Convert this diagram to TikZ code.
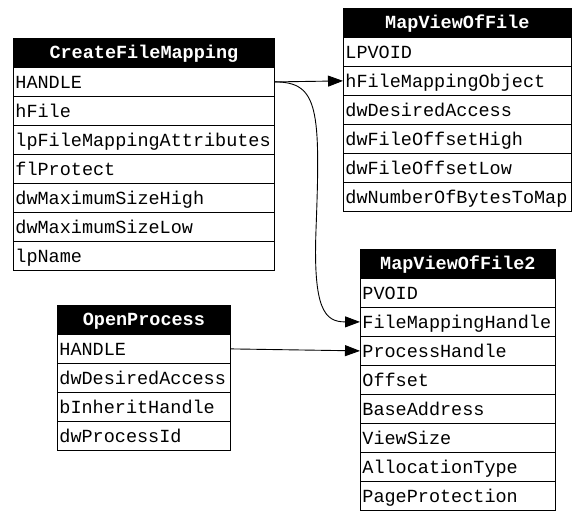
\documentclass[tikz,border=0pt]{standalone}
\usepackage{fontspec}
\setmonofont{Liberation Mono}
\usetikzlibrary{arrows.meta}
\tikzset{
  header/.style={draw=black, fill=black, text=white, line width=0.8pt,
    font=\fontsize{18.5}{20}\selectfont\ttfamily\bfseries,
    anchor=north west, minimum height=29pt, inner sep=0pt,
    text height=15pt, text depth=4pt},
  field/.style={draw=black, fill=white, line width=0.8pt,
    font=\fontsize{18.5}{20}\selectfont\ttfamily,
    anchor=north west, minimum height=29pt, inner xsep=2pt, inner ysep=0pt,
    text width=#1, align=left, text height=16pt, text depth=3pt},
  link/.style={-{Triangle[length=15pt,width=11pt]}, line width=0.9pt}
}
\begin{document}
\begin{tikzpicture}[x=1pt, y=-1pt]
  \useasboundingbox (0,0) rectangle (584,516);
  % CreateFileMapping
  \node[header, minimum width=261pt] (cfm0) at (13,38) {CreateFileMapping};
  \foreach \txt [count=\i] in {HANDLE, hFile, lpFileMappingAttributes, flProtect,
      dwMaximumSizeHigh, dwMaximumSizeLow, lpName} {
    \node[field=257pt] (cfm\i) at (13, 38+29*\i) {\txt};
  }
  % MapViewOfFile
  \node[header, minimum width=228pt] (mvf0) at (343,8) {MapViewOfFile};
  \foreach \txt [count=\i] in {LPVOID, hFileMappingObject, dwDesiredAccess,
      dwFileOffsetHigh, dwFileOffsetLow, dwNumberOfBytesToMap} {
    \node[field=224pt] (mvf\i) at (343, 8+29*\i) {\txt};
  }
  % MapViewOfFile2
  \node[header, minimum width=195pt] (mv20) at (360,249) {MapViewOfFile2};
  \foreach \txt [count=\i] in {PVOID, FileMappingHandle, ProcessHandle, Offset,
      BaseAddress, ViewSize, AllocationType, PageProtection} {
    \node[field=191pt] (mv2\i) at (360, 249+29*\i) {\txt};
  }
  % OpenProcess
  \node[header, minimum width=173pt] (op0) at (57,305) {OpenProcess};
  \foreach \txt [count=\i] in {HANDLE, dwDesiredAccess, bInheritHandle, dwProcessId} {
    \node[field=169pt] (op\i) at (57, 305+29*\i) {\txt};
  }
  % links
  \coordinate (bend) at (316,230);
  \draw[link] (cfm1.east) -- (mvf2.west);
  \draw[link] (cfm1.east) .. controls +(44,0) and +(4.5,-120) .. (bend)
    .. controls +(-3,80) and +(-35,0) .. (mv22.west);
  \draw[link] (op1.east) -- (mv23.west);
\end{tikzpicture}
\end{document}
